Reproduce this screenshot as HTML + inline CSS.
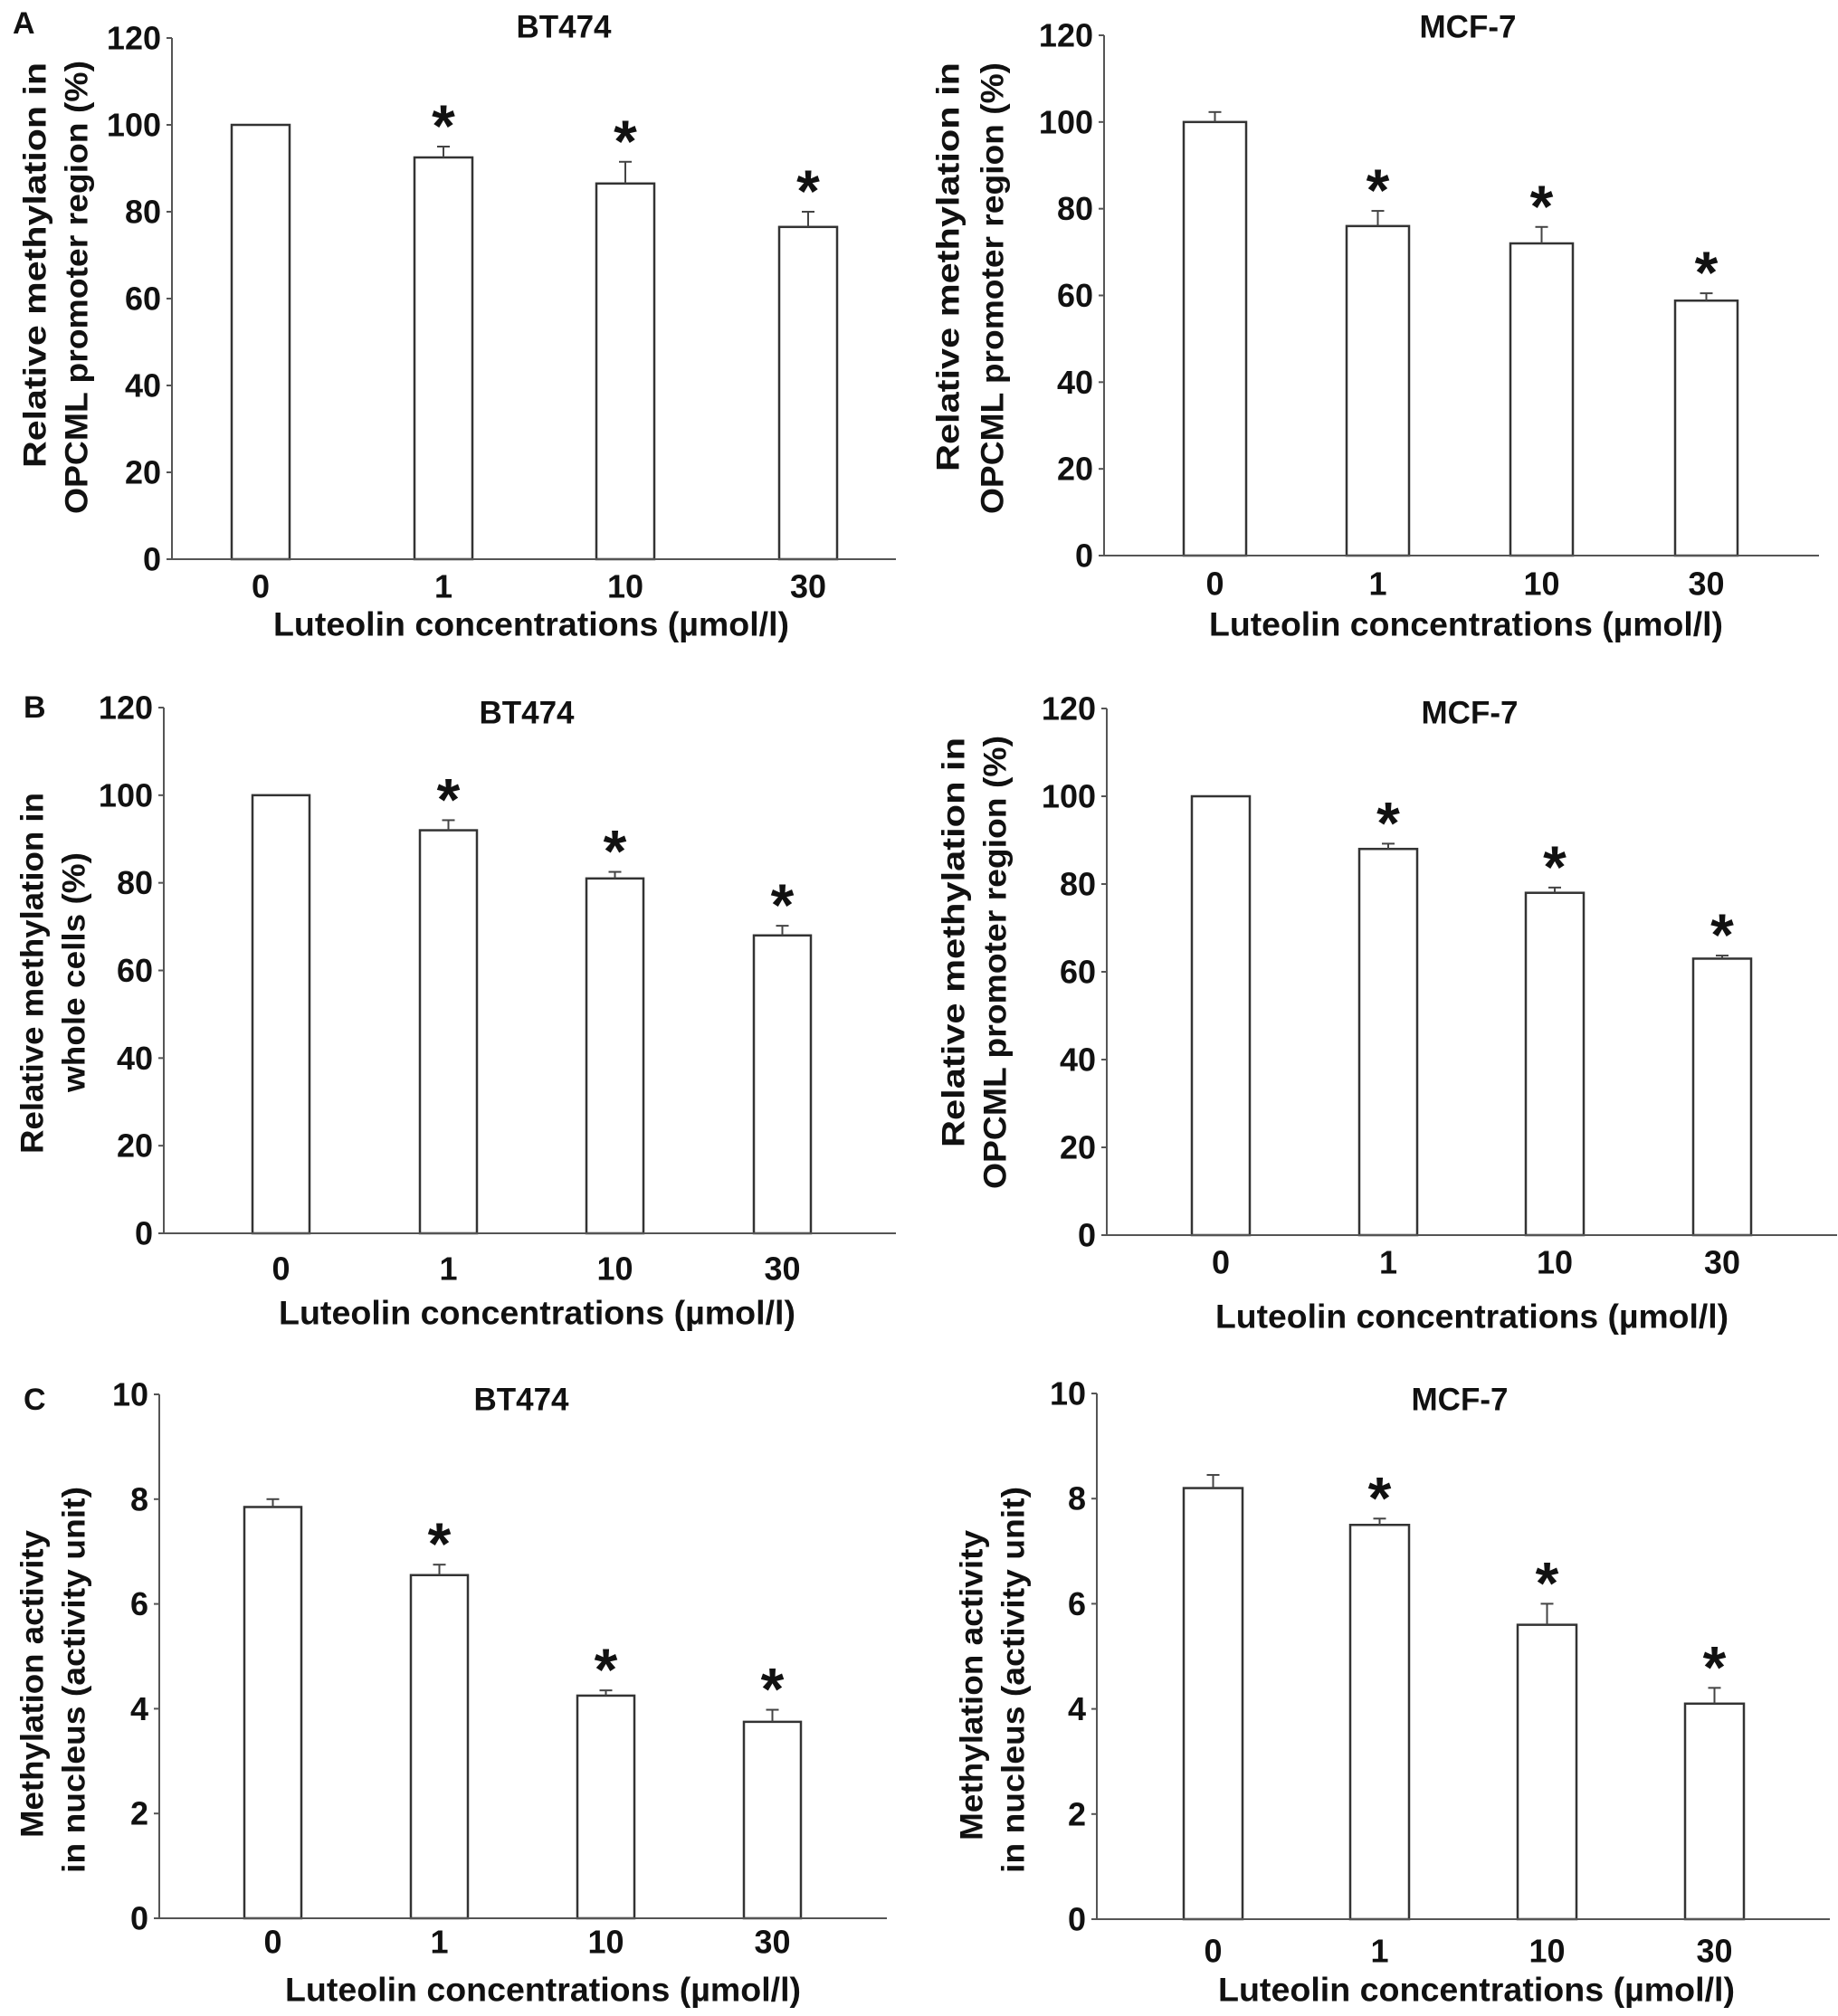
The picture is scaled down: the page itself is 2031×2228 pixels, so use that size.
<!DOCTYPE html>
<html><head><meta charset="utf-8"><style>
html,body{margin:0;padding:0;background:#fff;}
svg{display:block;font-family:"Liberation Sans",Arial,sans-serif;font-weight:bold;}
</style></head><body>
<svg id="fig" width="2031" height="2228" viewBox="0 0 2031 2228" xmlns="http://www.w3.org/2000/svg"></svg>
<script>
const categories = ["0","1","10","30"];
const aLeftValues = [100, 92.5, 86.5, 76.5];
const aLeftErrors = [0, 2.5, 5, 3.5];
const aRightValues = [100, 76, 72, 58.8];
const aRightErrors = [2.3, 3.5, 3.8, 1.7];
const bLeftValues = [100, 92, 81, 68];
const bLeftErrors = [0, 2.3, 1.5, 2.2];
const bRightValues = [100, 88, 78, 63];
const bRightErrors = [0, 1.2, 1.2, 0.7];
const cLeftValues = [7.85, 6.55, 4.25, 3.75];
const cLeftErrors = [0.15, 0.2, 0.1, 0.23];
const cRightValues = [8.2, 7.5, 5.6, 4.1];
const cRightErrors = [0.25, 0.12, 0.4, 0.3];
const pctTicks = [0, 20, 40, 60, 80, 100, 120];
const actTicks = [0, 2, 4, 6, 8, 10];
const sigFlags = [false, true, true, true];

const NS = "http://www.w3.org/2000/svg";
const svg = document.getElementById("fig");
function mk(tag, attrs, parent, text){
  const e = document.createElementNS(NS, tag);
  for (const k in attrs) e.setAttribute(k, attrs[k]);
  if (text !== undefined) e.textContent = text;
  (parent || svg).appendChild(e);
  return e;
}

const panels = [
 {id:"a-left", title:"BT474", vals:aLeftValues, errs:aLeftErrors, ticks:pctTicks, max:120,
  ax:190, y0:618, yTop:42, xEnd:990, barL:[256,458,659,861], bw:64, titleX:623, titleY:30,
  tickY:648, xlY:690, xl:[302,872], yl:[["Relative methylation in",39,69,517],["OPCML promoter region (%)",85,67,568]],
  letter:["A",14,26]},
 {id:"a-right", title:"MCF-7", vals:aRightValues, errs:aRightErrors, ticks:pctTicks, max:120,
  ax:1220, y0:614, yTop:39, xEnd:2010, barL:[1308,1488,1669,1851], bw:69, titleX:1622, titleY:30,
  tickY:645, xlY:690, xl:[1336,1904], yl:[["Relative methylation in",1048,69,521],["OPCML promoter region (%)",1097,69,568]]},
 {id:"b-left", title:"BT474", vals:bLeftValues, errs:bLeftErrors, ticks:pctTicks, max:120,
  ax:181, y0:1363, yTop:782, xEnd:990, barL:[279,464,648,833], bw:63, titleX:582, titleY:788,
  tickY:1402, xlY:1451, xl:[308,879], yl:[["Relative methylation in",36,876,1275],["whole cells (%)",82,942,1207]],
  letter:["B",26,782]},
 {id:"b-right", title:"MCF-7", vals:bRightValues, errs:bRightErrors, ticks:pctTicks, max:120,
  ax:1223, y0:1365, yTop:783, xEnd:2030, barL:[1317,1502,1686,1871], bw:64, titleX:1624, titleY:788,
  tickY:1395, xlY:1455, xl:[1343,1910], yl:[["Relative methylation in",1054,815,1268],["OPCML promoter region (%)",1100,813,1314]]},
 {id:"c-left", title:"BT474", vals:cLeftValues, errs:cLeftErrors, ticks:actTicks, max:10,
  ax:176, y0:2120, yTop:1541, xEnd:980, barL:[270,454,638,822], bw:63, titleX:576, titleY:1547,
  tickY:2146, xlY:2199, xl:[315,885], yl:[["Methylation activity",36,1691,2031],["in nucleus (activity unit)",82,1643,2070]],
  letter:["C",26,1547]},
 {id:"c-right", title:"MCF-7", vals:cRightValues, errs:cRightErrors, ticks:actTicks, max:10,
  ax:1212, y0:2121, yTop:1540, xEnd:2022, barL:[1308,1492,1677,1862], bw:65, titleX:1613, titleY:1547,
  tickY:2156, xlY:2199, xl:[1346,1917], yl:[["Methylation activity",1074,1691,2034],["in nucleus (activity unit)",1120,1643,2070]]}
];

panels.forEach(p => {
  const g = mk("g", {});
  
  
  const y = v => p.y0 - (v / p.max) * (p.y0 - p.yTop);
  const t = mk("text", {x:p.titleX, y:p.titleY, "font-size":35, "text-anchor":"middle", "dominant-baseline":"central", fill:"#111"}, g, p.title);
  
  
  if (p.letter) {
    const l = mk("text", {x:p.letter[1], y:p.letter[2], "font-size":34, "dominant-baseline":"central", fill:"#111"}, g, p.letter[0]);
    
    
  }
  p.vals.forEach((v, i) => {
    const x = p.barL[i];
    const top = y(v);
    const et = y(v + p.errs[i]);
    const bg = mk("g", {}, g);
    
    
    mk("rect", {x:x, y:top, width:p.bw, height:p.y0 - top, fill:"#fff", stroke:"#333", "stroke-width":2.5}, bg);
    if (p.errs[i] > 0) {
      const cx = x + p.bw / 2;
      mk("line", {x1:cx, y1:top, x2:cx, y2:et, stroke:"#444", "stroke-width":2}, bg);
      mk("line", {x1:cx - 7, y1:et, x2:cx + 7, y2:et, stroke:"#444", "stroke-width":2}, bg);
    }
    if (sigFlags[i]) {
      const s = mk("text", {x:x + p.bw / 2, y:et, "font-size":66, "text-anchor":"middle", fill:"#111"}, g, "*");
      
      
    }
    const tl = mk("text", {x:x + p.bw / 2, y:p.tickY, "font-size":36, "text-anchor":"middle", "dominant-baseline":"central", fill:"#111"}, g, categories[i]);
    
    
  });
  const ya = mk("line", {x1:p.ax, y1:p.yTop, x2:p.ax, y2:p.y0, stroke:"#555", "stroke-width":2}, g);
  
  
  const xa = mk("line", {x1:p.ax, y1:p.y0, x2:p.xEnd, y2:p.y0, stroke:"#555", "stroke-width":2}, g);
  
  
  p.ticks.forEach(tv => {
    const ty = y(tv);
    mk("line", {x1:p.ax - 6, y1:ty, x2:p.ax, y2:ty, stroke:"#555", "stroke-width":2}, g);
    const lbl = mk("text", {x:p.ax - 12, y:ty, "font-size":36, "text-anchor":"end", "dominant-baseline":"central", fill:"#111"}, g, String(tv));
    
    
  });
  const xl = mk("text", {x:p.xl[0], y:p.xlY, "font-size":37, "dominant-baseline":"central", textLength:p.xl[1] - p.xl[0], lengthAdjust:"spacingAndGlyphs", fill:"#111"}, g, "Luteolin concentrations (\u00b5mol/l)");
  
  
  p.yl.forEach((ln, k) => {
    const [txt, lx, ya0, ya1] = ln;
    const cy = (ya0 + ya1) / 2;
    const yt = mk("text", {x:lx, y:cy, "font-size":35, "text-anchor":"middle", "dominant-baseline":"central", textLength:ya1 - ya0, lengthAdjust:"spacingAndGlyphs", transform:"rotate(-90 " + lx + " " + cy + ")", fill:"#111"}, g, txt);
    
    
  });
});
</script>
</body></html>
